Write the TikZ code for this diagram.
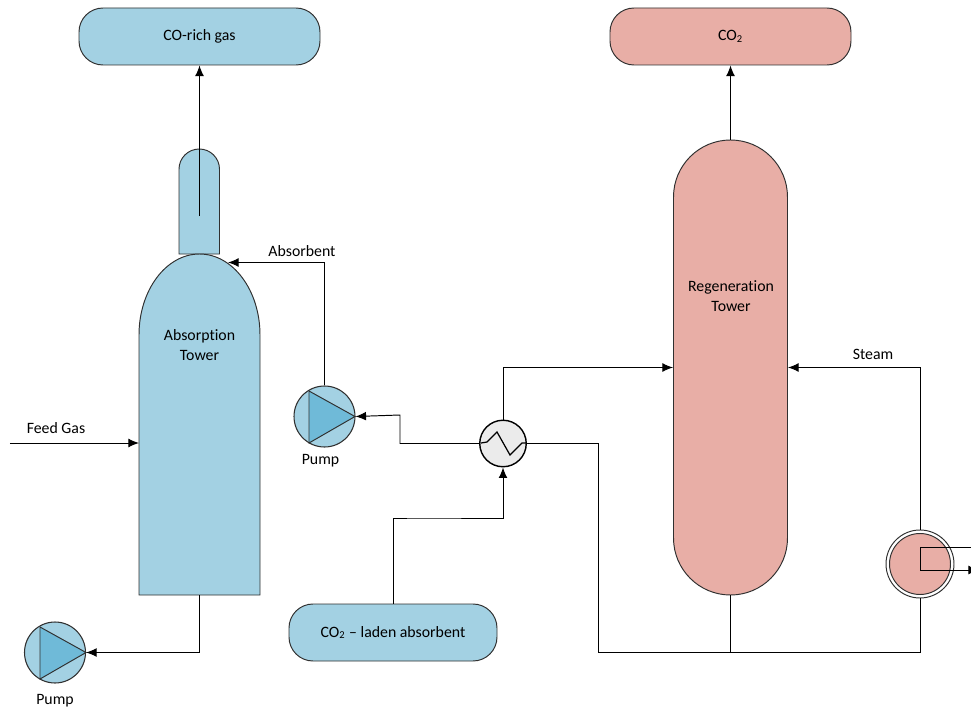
\documentclass[tikz,border=0pt]{standalone}
\usepackage{fontspec}
\setmainfont[Ligatures=NoCommon]{Carlito}
\usetikzlibrary{arrows.meta}
\definecolor{blueunit}{HTML}{A3D1E3}
\definecolor{redunit}{HTML}{E8AEA6}
\definecolor{bluepump}{HTML}{6FBAD8}
\definecolor{greyunit}{HTML}{EBEBEB}
\definecolor{unitline}{HTML}{303030}
\tikzset{
	terminal/.style={draw=unitline,line width=0.55pt,rounded corners=0.48cm,minimum width=#1,minimum height=1.14cm,inner sep=0pt,font=\fontsize{9}{11.4}\selectfont},
	pump/.style={circle,draw=unitline,line width=0.6pt,fill=blueunit,minimum size=1.22cm,inner sep=0pt},
	label/.style={font=\fontsize{9}{11.4}\selectfont,align=center},
	flow/.style={-{Latex[length=6pt,width=5pt]}},
	every path/.append style={line width=0.55pt}
}
\begin{document}
\begin{tikzpicture}
		\useasboundingbox (0,0) rectangle (19.42,14.16);
		
		% absorption side
		\draw[unitline,fill=blueunit] (3.58,9.08) -- (3.58,10.775) arc[start angle=180,end angle=0,radius=0.405] -- (4.39,9.08) -- cycle;
		\draw[unitline,fill=blueunit] (2.78,2.26) -- (2.78,7.46) arc[start angle=180,end angle=0,x radius=1.21,y radius=1.62] -- (5.20,2.26) -- cycle;
		\coordinate (absbottom) at (3.99,2.26);
		\coordinate (absfeed) at (2.78,5.30);
		\coordinate (absin) at (4.56,8.91);
		\coordinate (feedstart) at (0.20,5.30);
		\coordinate (neckend) at (3.99,9.84);
		
		\node[terminal=4.82cm,fill=blueunit] (cogas) at (3.99,13.43) {CO-rich gas};
		\node[terminal=4.82cm,fill=redunit] (cotwo) at (14.61,13.43) {CO\textsubscript{2}};
		\node[terminal=4.16cm,fill=blueunit] (laden) at (7.86,1.51) {CO\textsubscript{2} -- laden absorbent};
		
		\node[pump] (pumpa) at (6.49,5.83) {};
		\draw[unitline,fill=bluepump] (6.18,6.34) -- (7.10,5.83) -- (6.18,5.30) -- cycle;
		\node[pump] (pumpb) at (1.10,1.11) {};
		\draw[unitline,fill=bluepump] (0.80,1.62) -- (1.72,1.11) -- (0.80,0.58) -- cycle;
		
		% regeneration side
		\node[draw=unitline,fill=redunit,rounded corners=1.14cm,minimum width=2.28cm,minimum height=9.1cm,inner sep=0pt] (regen) at (14.61,6.81) {};
		
		\node[circle,draw=black,line width=0.8pt,fill=greyunit,minimum size=0.93cm,inner sep=0pt] (hx) at (10.06,5.29) {};
		\draw[black,line width=0.7pt] (9.62,5.30) -- (9.74,5.32) -- (9.94,5.52) -- (10.20,5.06) -- (10.44,5.30) -- (10.52,5.30);
		
		\node[circle,draw=unitline,minimum size=1.36cm,inner sep=0pt] (reb) at (18.40,2.88) {};
		\node[circle,draw=unitline,fill=redunit,minimum size=1.22cm,inner sep=0pt] (rebin) at (18.40,2.88) {};
		
		\coordinate (botleft) at (11.96,1.12);
		\coordinate (pumpbend) at (8.00,5.86);
		\coordinate (rebtop) at (19.42,3.22);
		\coordinate (rebbend) at (18.40,3.22);
		\coordinate (rebcorner) at (18.40,2.76);
		\coordinate (rebout) at (19.58,2.76);
		
		% connectors
		\draw[flow] (neckend) -- (cogas.south);
		\draw[flow] (regen.north) -- (cotwo.south);
		\draw[flow] (feedstart) -- (absfeed);
		\draw[flow] (absbottom) |- (pumpb.east);
		\draw[flow] (pumpa.north) |- (absin);
		\draw[flow] (hx.west) -| (pumpbend) -- (pumpa.east);
		\draw[flow] (hx.north) |- (regen.west);
		\draw[flow] (laden.north) |- (8.40,3.80) -| (hx.south);
		\draw[flow] (reb.north) |- (regen.east);
		\draw (hx.east) -| (botleft) -| (reb.south);
		\draw (regen.south) -- (regen.south |- botleft);
		\draw (rebtop) -- (rebbend) -- (rebcorner);
		\draw[flow] (rebcorner) -- (rebout);
		
		% labels
		\node[label] (abslabel) at (3.99,7.26) {Absorption\\Tower};
		\node[label] (reglabel) at (14.62,8.24) {Regeneration\\Tower};
		\node[label] (feedlabel) at (1.12,5.60) {Feed Gas};
		\node[label] (absorbentlabel) at (6.04,9.13) {Absorbent};
		\node[label] (steamlabel) at (17.46,7.08) {Steam};
		\node[label] (pumpalabel) at (6.41,4.95) {Pump};
		\node[label] (pumpblabel) at (1.10,0.15) {Pump};
		
\end{tikzpicture}
\end{document}
